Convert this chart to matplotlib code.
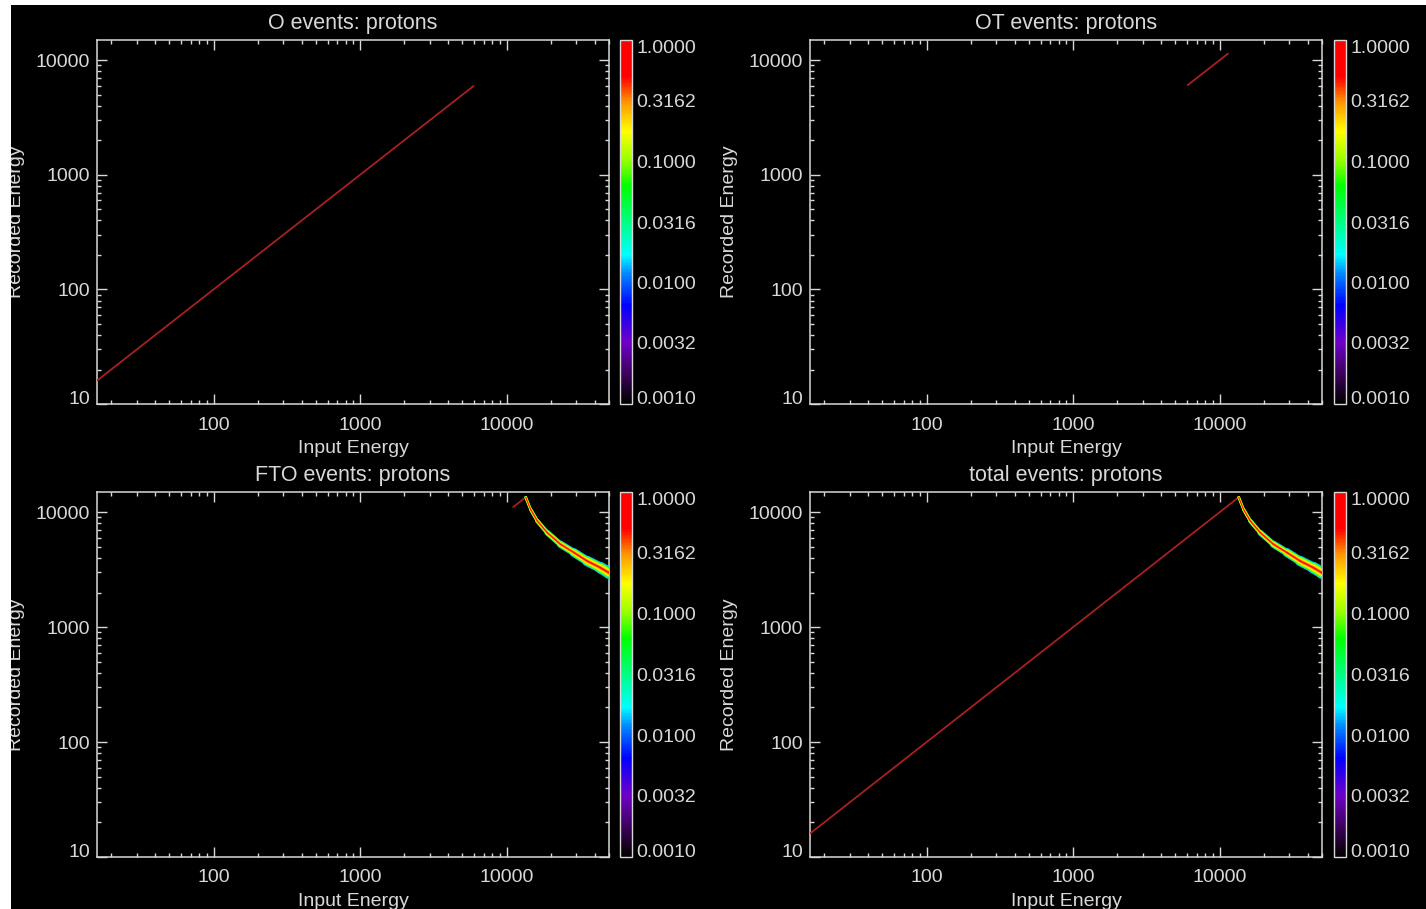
import numpy as np
import matplotlib
matplotlib.use("Agg")
import matplotlib.pyplot as plt
from matplotlib.colors import LinearSegmentedColormap, LogNorm
from matplotlib.collections import LineCollection
from matplotlib.patches import Rectangle
from matplotlib.ticker import FixedLocator, FuncFormatter, LogLocator, NullFormatter
import matplotlib.cm as cm

plt.rcParams['font.family'] = ['Liberation Sans', 'DejaVu Sans']

# ---------------- data ----------------
panel_titles = ['O events: protons', 'OT events: protons',
                'FTO events: protons', 'total events: protons']
# diagonal (recorded = input) segments per panel
diag_start = [16, 6000, 11000, 16]
diag_end = [6000, 11500, 13500, 13500]
# panels showing the punch-through branch
has_branch = [False, False, True, True]

# punch-through branch: input energy vs recorded energy (band centre)
branch_input = [13500, 14560, 16200, 18930, 23290, 28720, 35400, 43550, 49650, 52000]
branch_recorded = [13500, 10620, 8400, 6650, 5270, 4470, 3770, 3300, 2990, 2900]
# band widths (pixels, perpendicular) at each branch point for each level
band_levels = [0.007, 0.015, 0.045, 0.1, 0.2, 0.33, 0.5]
band_widths = [
    [0.0, 0.5, 1.0, 2.0, 3.0, 5.0, 7.0, 9.0, 12.0, 12.0],     # blue
    [1.5, 2.5, 3.5, 5.0, 6.5, 8.0, 9.5, 11.0, 12.0, 12.0],    # cyan
    [2.5, 3.0, 3.5, 4.5, 5.5, 6.5, 8.0, 9.0, 10.0, 10.0],     # green
    [2.2, 2.7, 3.2, 4.0, 4.8, 5.8, 7.0, 8.0, 8.5, 8.5],       # yellow-green
    [2.0, 2.3, 2.7, 3.2, 3.8, 4.5, 5.2, 6.0, 6.5, 6.5],       # yellow
    [1.2, 1.5, 1.8, 2.0, 2.3, 2.6, 2.8, 3.0, 3.2, 3.2],       # orange
    [0.7, 0.8, 0.9, 1.0, 1.1, 1.2, 1.3, 1.4, 1.4, 1.4],       # red core
]

x_ticks = [100, 1000, 10000]
y_ticks = [10, 100, 1000, 10000]
cbar_ticks = [0.001, 0.0032, 0.01, 0.0316, 0.1, 0.3162, 1.0]

# ---------------- style ----------------
W, H = 1426, 909
TXT = '#d8d8d8'
FS = 14

cmap = LinearSegmentedColormap.from_list('idl_rainbow', [
    (0.00, (0, 0, 0)),
    (0.08, (60/255, 0, 90/255)),
    (0.17, (110/255, 0, 200/255)),
    (0.27, (0, 0, 1)),
    (0.36, (0, 140/255, 1)),
    (0.41, (0, 1, 1)),
    (0.50, (0, 1, 130/255)),
    (0.60, (0, 1, 0)),
    (0.67, (150/255, 1, 0)),
    (0.75, (1, 1, 0)),
    (0.83, (1, 150/255, 0)),
    (0.90, (1, 0, 0)),
    (1.00, (1, 0, 0)),
])
norm = LogNorm(vmin=1e-3, vmax=1.0)

fig = plt.figure(figsize=(W/100, H/100), dpi=100, facecolor='black')


def px_axes(x0, y0, x1, y1):
    return fig.add_axes([x0/W, 1 - y1/H, (x1 - x0)/W, (y1 - y0)/H])


axes_px = [(97, 40, 609, 404), (810, 40, 1322, 404),
           (97, 492, 609, 857), (810, 492, 1322, 857)]
cbar_px = [(620, 40, 632, 404), (1334, 40, 1346, 404),
           (620, 492, 632, 857), (1334, 492, 1346, 857)]

for i in range(4):
    ax = px_axes(*axes_px[i])
    ax.set_facecolor('black')
    ax.set_xscale('log')
    ax.set_yscale('log')
    ax.set_xlim(16, 50000)
    ax.set_ylim(10, 15000)

    # diagonal
    ax.plot([diag_start[i], diag_end[i]], [diag_start[i], diag_end[i]],
            color='#a82020', lw=1.3, solid_capstyle='butt', zorder=3)

    if has_branch[i]:
        segs = [[(branch_input[k], branch_recorded[k]),
                 (branch_input[k + 1], branch_recorded[k + 1])]
                for k in range(len(branch_input) - 1)]
        for lev, widths in zip(band_levels, band_widths):
            lw = [0.72 * 0.5 * (widths[k] + widths[k + 1])
                  for k in range(len(widths) - 1)]
            lc = LineCollection(segs, colors=[cmap(norm(lev))], linewidths=lw,
                                capstyle='round', joinstyle='round', zorder=4)
            ax.add_collection(lc)

    for sp in ax.spines.values():
        sp.set_color(TXT)
        sp.set_linewidth(1.1)
    ax.xaxis.set_major_locator(FixedLocator(x_ticks))
    ax.yaxis.set_major_locator(FixedLocator(y_ticks))
    ax.xaxis.set_minor_locator(LogLocator(base=10, subs=np.arange(2, 10)))
    ax.yaxis.set_minor_locator(LogLocator(base=10, subs=np.arange(2, 10)))
    ax.xaxis.set_major_formatter(FuncFormatter(lambda v, p: f'{v:.0f}'))
    ax.yaxis.set_major_formatter(FuncFormatter(lambda v, p: f'{v:.0f}'))
    ax.xaxis.set_minor_formatter(NullFormatter())
    ax.yaxis.set_minor_formatter(NullFormatter())
    ax.tick_params(which='both', direction='in', top=True, right=True,
                   color=TXT, labelcolor=TXT, labelsize=FS, width=1.0)
    ax.tick_params(which='major', length=7)
    ax.tick_params(which='minor', length=3)
    ax.tick_params(axis='x', which='major', pad=9)
    ax.tick_params(axis='y', which='major', pad=5)
    for lab in ax.get_yticklabels():
        if lab.get_text() == '10':
            lab.set_va('baseline')

    ax.set_title(panel_titles[i], color=TXT, fontsize=15.5, pad=8)
    ax.set_xlabel('Input Energy', color=TXT, fontsize=FS, labelpad=5)
    ax.set_ylabel('Recorded Energy', color=TXT, fontsize=FS)
    ax.yaxis.set_label_coords(-0.1405, 0.5)

    # colorbar
    cax = px_axes(*cbar_px[i])
    sm = cm.ScalarMappable(norm=norm, cmap=cmap)
    cb = fig.colorbar(sm, cax=cax)
    cb.set_ticks(cbar_ticks)
    cb.set_ticklabels([f'{t:.4f}' for t in cbar_ticks])
    cb.ax.minorticks_off()
    cb.ax.tick_params(length=0, pad=3, labelcolor=TXT, labelsize=FS)
    cb.outline.set_edgecolor(TXT)
    cb.outline.set_linewidth(1.0)
    labs = cb.ax.get_yticklabels()
    labs[0].set_va('baseline')
    labs[-1].set_va('top')

# white screenshot margins
fig.add_artist(Rectangle((0, 0), 11/W, 1, transform=fig.transFigure,
                         facecolor='white', edgecolor='none', zorder=1000))
fig.add_artist(Rectangle((0, 1 - 5/H), 1, 5/H, transform=fig.transFigure,
                         facecolor='white', edgecolor='none', zorder=1000))

fig.savefig('out.png', dpi=100, facecolor='black')
